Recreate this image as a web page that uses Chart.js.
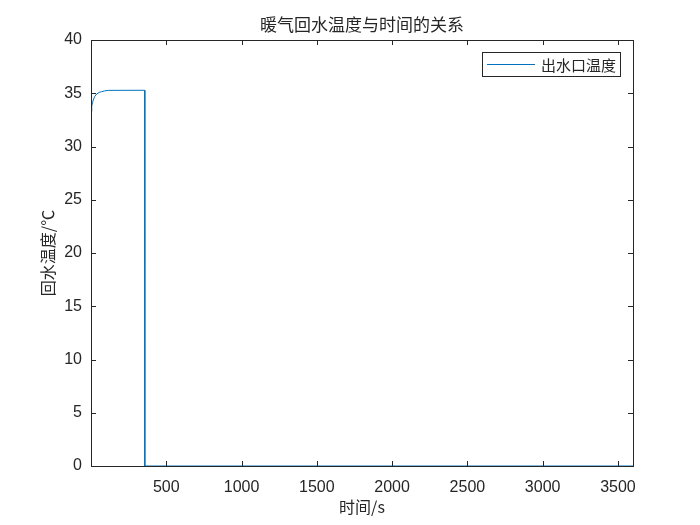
<!DOCTYPE html>
<html>
<head>
<meta charset="utf-8">
<script src="https://cdn.jsdelivr.net/npm/chart.js@4.4.0/dist/chart.umd.min.js"></script>
<style>
  html, body { margin:0; padding:0; background:#fff; }
  #wrap { width:700px; height:525px; }
</style>
</head>
<body>
<div id="wrap"><canvas id="c" width="700" height="525"></canvas></div>
<script>
// data
const timeS = [0, 5, 10, 15, 25, 38, 55, 71, 90, 115, 357, 357.5, 3600];
const tempC = [33.3, 33.8, 34.1, 34.37, 34.7, 34.93, 35.08, 35.15, 35.22, 35.27, 35.28, 0, 0];
const xTicks = [500, 1000, 1500, 2000, 2500, 3000, 3500];
const yTicks = [0, 5, 10, 15, 20, 25, 30, 35, 40];
const seriesName = '出水口温度';
const titleText = '暖气回水温度与时间的关系';
const xTitle = '时间/s';
const yTitle = '回水温度/℃';

const axisColor = '#262626';
const lineColor = '#0072BD';
const cjk = '"Noto Sans CJK SC", "Noto Sans", sans-serif';

// box, inward ticks, titles, legend (MATLAB look)
const matlabDeco = {
  id: 'matlabDeco',
  afterDraw(chart) {
    const ctx = chart.ctx;
    const a = chart.chartArea;
    const xs = chart.scales.x, ys = chart.scales.y;
    ctx.save();
    ctx.strokeStyle = axisColor;
    ctx.lineWidth = 1;
    ctx.strokeRect(a.left + 0.5, a.top + 0.5, a.right - a.left, a.bottom - a.top);
    ctx.beginPath();
    xTicks.forEach(v => {
      const p = Math.round(xs.getPixelForValue(v)) + 0.5;
      ctx.moveTo(p, a.bottom); ctx.lineTo(p, a.bottom - 5);
      ctx.moveTo(p, a.top); ctx.lineTo(p, a.top + 5);
    });
    yTicks.forEach(v => {
      const p = Math.round(ys.getPixelForValue(v)) + 0.5;
      ctx.moveTo(a.left, p); ctx.lineTo(a.left + 5, p);
      ctx.moveTo(a.right, p); ctx.lineTo(a.right - 5, p);
    });
    ctx.stroke();

    ctx.fillStyle = axisColor;
    ctx.textAlign = 'center';
    ctx.textBaseline = 'middle';
    const cx = (a.left + a.right) / 2;
    ctx.font = '17px ' + cjk;
    ctx.fillText(titleText, cx, 25);
    ctx.font = '16px ' + cjk;
    ctx.fillText(xTitle, cx, 507);
    ctx.save();
    ctx.translate(48, (a.top + a.bottom) / 2);
    ctx.rotate(-Math.PI / 2);
    ctx.fillText(yTitle, 0, 0);
    ctx.restore();

    // legend box
    const lx = 482, ly = 52, lw = 138, lh = 24;
    ctx.fillStyle = '#fff';
    ctx.fillRect(lx, ly, lw, lh);
    ctx.strokeStyle = axisColor;
    ctx.strokeRect(lx + 0.5, ly + 0.5, lw, lh);
    ctx.strokeStyle = chart.data.datasets[0].borderColor;
    ctx.beginPath();
    ctx.moveTo(487, ly + lh / 2 + 0.5); ctx.lineTo(535, ly + lh / 2 + 0.5);
    ctx.stroke();
    ctx.fillStyle = axisColor;
    ctx.textAlign = 'left';
    ctx.font = '15px ' + cjk;
    ctx.fillText(chart.data.datasets[0].label, 541, ly + lh / 2 + 1);
    ctx.restore();
  }
};

new Chart(document.getElementById('c'), {
  type: 'scatter',
  data: {
    datasets: [{
      label: seriesName,
      data: timeS.map((t, i) => ({ x: t, y: tempC[i] })),
      showLine: true,
      borderColor: lineColor,
      backgroundColor: lineColor,
      borderWidth: 1,
      pointRadius: 0,
      tension: 0
    }]
  },
  options: {
    responsive: false,
    animation: false,
    layout: { padding: { left: 0, right: 67, top: 40, bottom: 0 } },
    plugins: { legend: { display: false }, tooltip: { enabled: false } },
    scales: {
      x: {
        type: 'linear', min: 0, max: 3600,
        afterBuildTicks: s => { s.ticks = xTicks.map(v => ({ value: v })); },
        afterFit: s => { s.height = 59; },
        grid: { display: false, drawTicks: false },
        border: { display: false },
        ticks: { color: axisColor, font: { family: 'Liberation Sans, Arial', size: 16 }, padding: 12, maxRotation: 0,
                 callback: v => String(v) }
      },
      y: {
        type: 'linear', min: 0, max: 40,
        afterBuildTicks: s => { s.ticks = yTicks.map(v => ({ value: v })); },
        afterFit: s => { s.width = 91; },
        grid: { display: false, drawTicks: false },
        border: { display: false },
        ticks: { color: axisColor, font: { family: 'Liberation Sans, Arial', size: 16 }, padding: 9,
                 callback: v => String(v) }
      }
    }
  },
  plugins: [matlabDeco]
});
</script>
</body>
</html>
